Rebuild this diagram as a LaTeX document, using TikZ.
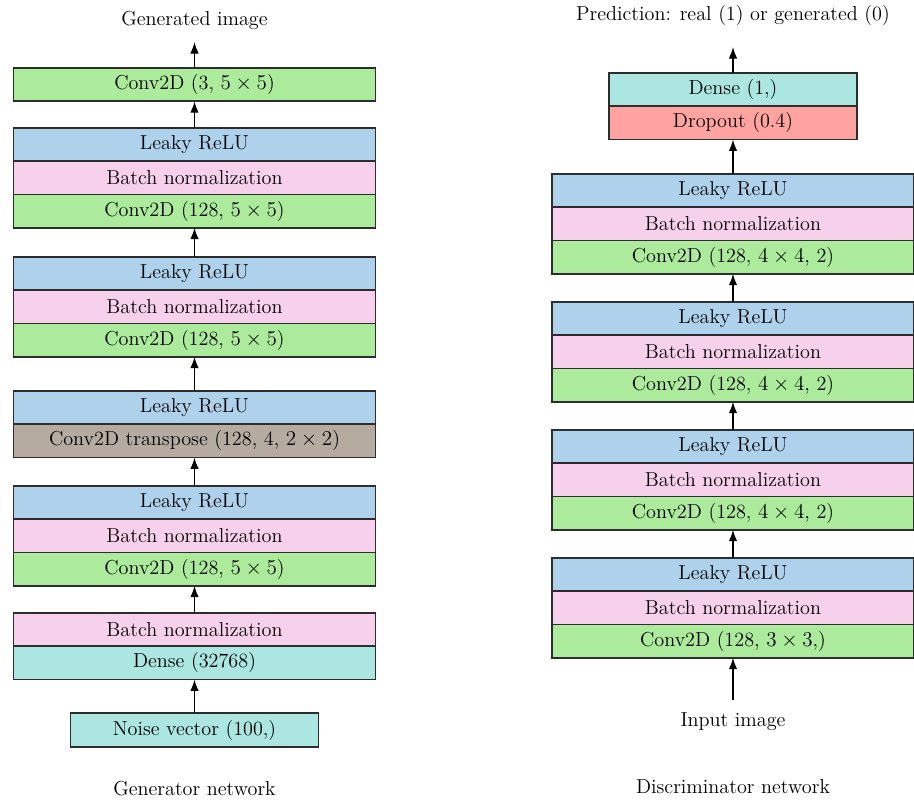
\documentclass[tikz,border=0pt]{standalone}
\usepackage{amsmath}
\usepackage{tikz}
\usetikzlibrary{arrows.meta, positioning}
\usepackage{xcolor}
\definecolor{convgreen}{RGB}{171, 235, 155}
\definecolor{relublue}{RGB}{174, 209, 236}
\definecolor{normpink}{RGB}{247, 209, 236}
\definecolor{densecyan}{RGB}{171, 230, 225}
\definecolor{transgray}{RGB}{181, 171, 161}
\definecolor{dropred}{RGB}{255, 163, 160}
\definecolor{edgegray}{RGB}{45, 45, 45}

\begin{document}
\begin{tikzpicture}[x=0.02cm, y=-0.02cm,
    layer/.style={draw=edgegray, line width=0.9pt, minimum width=7.24cm, minimum height=0.665cm,
                  inner sep=0pt, outer sep=0pt, font=\fontsize{11.5}{13}\selectfont},
    short/.style={layer, minimum width=4.96cm},
    caption/.style={font=\fontsize{11.5}{13}\selectfont},
    flow/.style={-{Latex[length=2.3mm, width=1.7mm]}, line width=0.8pt}]
    \useasboundingbox (0,0) rectangle (914,799);

    % generator
    \node[caption] (genout) at (194.5,20) {Generated image};
    \coordinate (genouttip) at (194.5,42);
    \node[layer, fill=convgreen, anchor=north] (gconvout) at (194.5,68) {Conv2D (3, $5\times5$)};
    \node[layer, fill=relublue, anchor=north] (grelua) at (194.5,128) {Leaky ReLU};
    \node[layer, fill=normpink, below=0pt of grelua] (gnorma) {Batch normalization};
    \node[layer, fill=convgreen, below=0pt of gnorma] (gconva) {Conv2D (128, $5\times5$)};
    \node[layer, fill=relublue, anchor=north] (grelub) at (194.5,257) {Leaky ReLU};
    \node[layer, fill=normpink, below=0pt of grelub] (gnormb) {Batch normalization};
    \node[layer, fill=convgreen, below=0pt of gnormb] (gconvb) {Conv2D (128, $5\times5$)};
    \node[layer, fill=relublue, anchor=north] (greluc) at (194.5,391) {Leaky ReLU};
    \node[layer, fill=transgray, below=0pt of greluc] (gtrans) {Conv2D transpose (128, 4, $2\times2$)};
    \node[layer, fill=relublue, anchor=north] (grelud) at (194.5,486) {Leaky ReLU};
    \node[layer, fill=normpink, below=0pt of grelud] (gnormd) {Batch normalization};
    \node[layer, fill=convgreen, below=0pt of gnormd] (gconvd) {Conv2D (128, $5\times5$)};
    \node[layer, fill=normpink, anchor=north] (gnorme) at (194.5,613) {Batch normalization};
    \node[layer, fill=densecyan, below=0pt of gnorme] (gdense) {Dense (32768)};
    \node[short, fill=densecyan, anchor=north, minimum height=0.68cm] (noise) at (194.5,713) {Noise vector (100,)};
    \node[caption] (genname) at (194.5,789) {Generator network};

    \draw[flow] (gconvout.north) -- (genouttip);
    \draw[flow] (grelua.north) -- (gconvout.south);
    \draw[flow] (grelub.north) -- (gconva.south);
    \draw[flow] (greluc.north) -- (gconvb.south);
    \draw[flow] (grelud.north) -- (gtrans.south);
    \draw[flow] (gnorme.north) -- (gconvd.south);
    \draw[flow] (noise.north) -- (gdense.south);

    % discriminator
    \node[caption] (discout) at (733,15) {Prediction: real (1) or generated (0)};
    \coordinate (discouttip) at (733,47);
    \node[short, fill=densecyan, anchor=north] (ddense) at (733,73) {Dense (1,)};
    \node[short, fill=dropred, below=0pt of ddense] (ddrop) {Dropout (0.4)};
    \node[layer, fill=relublue, anchor=north] (drelua) at (733,174) {Leaky ReLU};
    \node[layer, fill=normpink, below=0pt of drelua] (dnorma) {Batch normalization};
    \node[layer, fill=convgreen, below=0pt of dnorma] (dconva) {Conv2D (128, $4\times4$, 2)};
    \node[layer, fill=relublue, anchor=north] (drelub) at (733,302) {Leaky ReLU};
    \node[layer, fill=normpink, below=0pt of drelub] (dnormb) {Batch normalization};
    \node[layer, fill=convgreen, below=0pt of dnormb] (dconvb) {Conv2D (128, $4\times4$, 2)};
    \node[layer, fill=relublue, anchor=north] (dreluc) at (733,430) {Leaky ReLU};
    \node[layer, fill=normpink, below=0pt of dreluc] (dnormc) {Batch normalization};
    \node[layer, fill=convgreen, below=0pt of dnormc] (dconvc) {Conv2D (128, $4\times4$, 2)};
    \node[layer, fill=relublue, anchor=north] (drelud) at (733,558) {Leaky ReLU};
    \node[layer, fill=normpink, below=0pt of drelud] (dnormd) {Batch normalization};
    \node[layer, fill=convgreen, below=0pt of dnormd] (dconvd) {Conv2D (128, $3\times3$,)};
    \coordinate (dinbase) at (733,700);
    \node[caption] (dinput) at (733,722) {Input image};
    \node[caption] (discname) at (733,787) {Discriminator network};

    \draw[flow] (ddense.north) -- (discouttip);
    \draw[flow] (drelua.north) -- (ddrop.south);
    \draw[flow] (drelub.north) -- (dconva.south);
    \draw[flow] (dreluc.north) -- (dconvb.south);
    \draw[flow] (drelud.north) -- (dconvc.south);
    \draw[flow] (dinbase) -- (dconvd.south);
\end{tikzpicture}
\end{document}
